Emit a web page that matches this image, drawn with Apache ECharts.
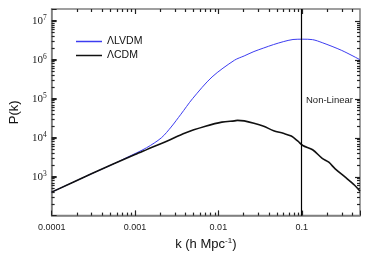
<!DOCTYPE html>
<html><head><meta charset="utf-8">
<script src="https://cdn.jsdelivr.net/npm/echarts@6/dist/echarts.min.js"></script>
<style>html,body{margin:0;padding:0;background:#fff}#c{width:366px;height:256px}</style>
</head><body><div id="c"></div>
<script>
// ΛCDM power spectrum (black)
const kLCDM = [0.0001, 0.0003, 0.001, 0.0014, 0.0024, 0.004, 0.007, 0.011, 0.0156, 0.017, 0.0204, 0.0267, 0.035, 0.046, 0.060, 0.075, 0.090, 0.103, 0.135, 0.176, 0.211, 0.252, 0.330, 0.431, 0.5];
const pLCDM = [400, 1180, 3700, 5000, 8100, 13200, 19500, 25000, 27000, 27700, 27000, 23500, 19500, 15100, 12900, 11000, 8100, 6300, 4900, 2950, 2340, 1580, 980, 600, 420];
// ΛLVDM power spectrum (blue)
const kLVDM = [0.0001, 0.0003, 0.0006, 0.0008, 0.00138, 0.00207, 0.00271, 0.00355, 0.0049, 0.0084, 0.0156, 0.0204, 0.0267, 0.035, 0.0458, 0.060, 0.0785, 0.103, 0.135, 0.176, 0.302, 0.5];
const pLVDM = [400, 1180, 2300, 3100, 5530, 9900, 18700, 39800, 100000, 361000, 970000, 1250000, 1620000, 2000000, 2440000, 2900000, 3300000, 3360000, 3270000, 2740000, 1730000, 1000000];
const seriesNames = ['\u039BLVDM', '\u039BCDM'];
const xTickLabels = ['0.0001', '0.001', '0.01', '0.1'];
const yTickExponents = [3, 4, 5, 6, 7];
const nonLinearK = 0.1;
const nonLinearText = 'Non-Linear';

const xMin = 0.0001, xMax = 0.5, yMin = 100, yMax = 2e7;

function zip(a, b) { return a.map((v, i) => [v, b[i]]); }
function isPow10(v) { const l = Math.log10(v); return Math.abs(l - Math.round(l)) < 1e-6; }
function logTicks(lo, hi, major) {
  const out = [];
  for (let e = Math.floor(Math.log10(lo)); e <= Math.ceil(Math.log10(hi)); e++) {
    const ms = major ? [1] : [2, 3, 4, 5, 6, 7, 8, 9];
    ms.forEach(m => { const v = m * Math.pow(10, e); if (v > lo * 1.0001 && v < hi * 0.9999) out.push(v); });
  }
  return out;
}

const axisGray = '#808080';
const tickColor = '#222';
const chart = echarts.init(document.getElementById('c'));

chart.setOption({
  animation: false,
  backgroundColor: '#fff',
  grid: { left: 43, right: 6, top: 9, bottom: 37, containLabel: false,
          show: true, borderColor: axisGray, borderWidth: 1.5, backgroundColor: 'transparent' },
  legend: {
    orient: 'vertical', left: 71, top: 31, itemWidth: 26, itemHeight: 1.5, itemGap: 3,
    data: [
      { name: seriesNames[0], icon: 'rect', itemStyle: { color: '#3c3cf0' } },
      { name: seriesNames[1], icon: 'rect', itemStyle: { color: '#111' } }
    ],
    textStyle: { fontFamily: 'Liberation Sans', fontSize: 10.5, color: '#111' }
  },
  xAxis: {
    type: 'log', logBase: 10, min: xMin, max: xMax, splitNumber: 4,
    axisLine: { show: true, onZero: false, lineStyle: { color: axisGray, width: 1.5 } },
    axisTick: { show: true, inside: true, length: 5, lineStyle: { color: tickColor, width: 1 } },
    splitLine: { show: false },
    axisLabel: {
      margin: 7, fontFamily: 'Liberation Sans', fontSize: 9, color: '#222',
      formatter: v => { const s = xTickLabels.find(t => Math.abs(+t - v) / v < 1e-6); return s || ''; }
    },
    name: '{a|k (h Mpc}{s|-1}{a|)}', nameLocation: 'middle', nameGap: 19,
    nameTextStyle: { rich: {
      a: { fontFamily: 'Liberation Sans', fontSize: 13, color: '#111', lineHeight: 16 },
      s: { fontFamily: 'Liberation Sans', fontSize: 8, color: '#111', verticalAlign: 'top', lineHeight: 16 }
    } }
  },
  yAxis: {
    type: 'log', logBase: 10, min: yMin, max: yMax, splitNumber: 5,
    axisLine: { show: true, onZero: false, lineStyle: { color: axisGray, width: 1.5 } },
    axisTick: { show: true, inside: true, length: 5, lineStyle: { color: tickColor, width: 1 } },
    splitLine: { show: false },
    axisLabel: {
      margin: 5, color: '#222',
      formatter: v => {
        if (!isPow10(v)) return '';
        const e = Math.round(Math.log10(v));
        return yTickExponents.includes(e) ? '{b|10}{e|' + e + '}' : '';
      },
      rich: {
        b: { fontFamily: 'Liberation Serif', fontSize: 11, color: '#222', lineHeight: 14 },
        e: { fontFamily: 'Liberation Serif', fontSize: 7.5, color: '#222', verticalAlign: 'top', lineHeight: 14 }
      }
    },
    name: 'P(k)', nameLocation: 'middle', nameGap: 28, nameRotate: 90,
    nameTextStyle: { fontFamily: 'Liberation Sans', fontSize: 13, color: '#111' }
  },
  series: [
    {
      name: seriesNames[0], type: 'line', data: zip(kLVDM, pLVDM),
      showSymbol: false, symbol: 'none', smooth: 0.3,
      lineStyle: { color: '#3c3cf0', width: 1 }, itemStyle: { color: '#3c3cf0' }, z: 2
    },
    {
      name: seriesNames[1], type: 'line', data: zip(kLCDM, pLCDM),
      showSymbol: false, symbol: 'none', smooth: 0.3,
      lineStyle: { color: '#111', width: 1.6 }, itemStyle: { color: '#111' }, z: 3,
      markLine: {
        silent: true, symbol: 'none', label: { show: false },
        lineStyle: { color: '#000', width: 1.2, type: 'solid' },
        data: [{ xAxis: nonLinearK }]
      }
    }
  ]
});

// Minor ticks on all sides and major ticks on top/right, positioned through the chart's own axis scales
const finder = { xAxisIndex: 0, yAxisIndex: 0 };
const gl = chart.convertToPixel(finder, [xMin, yMin]);
const gr = chart.convertToPixel(finder, [xMax, yMax]);
const L = gl[0], B = gl[1], R = gr[0], T = gr[1];
const elems = [];
function tline(x1, y1, x2, y2) {
  elems.push({ type: 'line', silent: true, z: 100, shape: { x1: x1, y1: y1, x2: x2, y2: y2 }, style: { stroke: tickColor, lineWidth: 1.2 } });
}
[[true, 5], [false, 3]].forEach(function (cfg) {
  const maj = cfg[0], len = cfg[1];
  logTicks(xMin, xMax, maj).forEach(v => {
    const px = Math.round(chart.convertToPixel(finder, [v, yMin])[0]) + 0.5;
    tline(px, B, px, B - len); tline(px, T, px, T + len);
  });
  logTicks(yMin, yMax, maj).forEach(v => {
    const py = Math.round(chart.convertToPixel(finder, [xMin, v])[1]) + 0.5;
    tline(L, py, L + len, py); tline(R, py, R - len, py);
  });
});
elems.push({
  type: 'text', left: 306, top: 95,
  style: { text: nonLinearText, fontFamily: 'Liberation Sans', fontSize: 9.5, fill: '#222' }
});
chart.setOption({ graphic: elems });
</script></body></html>
